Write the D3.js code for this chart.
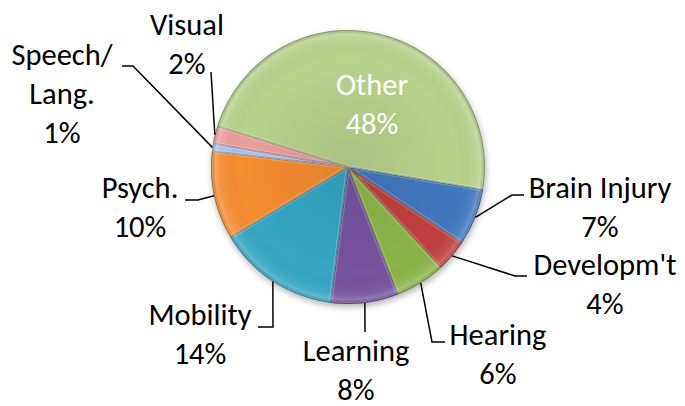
<!DOCTYPE html>
<html>
<head>
<meta charset="utf-8">
<script src="https://cdn.jsdelivr.net/npm/d3@7"></script>
<style>
  body { margin: 0; background: #fff; }
  text { font-family: Carlito, Lato, "Open Sans", sans-serif; }
</style>
</head>
<body>
<script>
const width = 685;
const height = 406;

// data, in clockwise order starting at Brain Injury
const categories = ["Brain Injury", "Developm't", "Hearing", "Learning", "Mobility", "Psych.", "Speech/|Lang.", "Visual", "Other"];
const values = [6.7, 3.8, 5.9, 8.0, 14.4, 10.4, 0.9, 2.1, 47.8];
const colors = ["#3f78c0", "#c0403d", "#8cb548", "#74539e", "#35a6c4", "#f58d30", "#a3c0ea", "#e99d9c", "#b7d28b"];

// label layout (text centre, first baseline) and leader-line bends
const labelX = [600, 605, 498, 356, 200, 140, 62, 187, 372];
const labelY = [198, 275, 345, 361, 325, 198, 65, 35, 95];
const leaders = [
  [[512, 195], [524, 195]],
  [[515, 276], [527, 276]],
  [[432, 342], [445, 342]],
  [[365, 332]],
  [[273, 327], [258, 327]],
  [[198, 200], [185, 200]],
  [[133, 66], [122, 66]],
  [[211, 72]],
  null
];

const cx = 348, cy = 167, radius = 137;
const lineGap = 39;
const fontSize = 30.5;

const data = categories.map((c, i) => ({name: c, value: values[i], color: colors[i], i}));
const total = d3.sum(values);
const fmt = d3.format(".0%");

const pie = d3.pie()
    .sort(null)
    .value(d => d.value)
    .startAngle(99.5 * Math.PI / 180)
    .endAngle(99.5 * Math.PI / 180 + 2 * Math.PI);

const arc = d3.arc().innerRadius(0).outerRadius(radius);
const arcs = pie(data);

const svg = d3.select("body")
    .append("svg")
    .attr("width", width)
    .attr("height", height);

const defs = svg.append("defs");

const shadow = defs.append("filter").attr("id", "shadow")
    .attr("x", "-20%").attr("y", "-20%").attr("width", "140%").attr("height", "140%");
shadow.append("feGaussianBlur").attr("in", "SourceAlpha").attr("stdDeviation", 3);
shadow.append("feOffset").attr("dx", 1).attr("dy", 3).attr("result", "b");
shadow.append("feComponentTransfer").append("feFuncA").attr("type", "linear").attr("slope", 0.3);
const merge = shadow.append("feMerge");
merge.append("feMergeNode");
merge.append("feMergeNode").attr("in", "SourceGraphic");

// rim shading over the whole pie
const rim = defs.append("radialGradient").attr("id", "rim")
    .attr("cx", "50%").attr("cy", "50%").attr("r", "50%");
rim.append("stop").attr("offset", "0%").attr("stop-color", "#000").attr("stop-opacity", 0.08);
rim.append("stop").attr("offset", "80%").attr("stop-color", "#000").attr("stop-opacity", 0);
rim.append("stop").attr("offset", "94%").attr("stop-color", "#fff").attr("stop-opacity", 0.08);
rim.append("stop").attr("offset", "97%").attr("stop-color", "#fff").attr("stop-opacity", 0.22);
rim.append("stop").attr("offset", "100%").attr("stop-color", "#000").attr("stop-opacity", 0.2);

const chart = svg.append("g")
    .attr("transform", `translate(${cx},${cy})`);

const pieGroup = chart.append("g").attr("filter", "url(#shadow)");

arcs.forEach(a => {
  defs.append("clipPath").attr("id", "clip" + a.data.i)
    .append("path").attr("d", arc(a));
});

const slices = pieGroup.selectAll("g.slice")
    .data(arcs)
    .join("g")
    .attr("class", "slice");

slices.append("path")
    .attr("d", arc)
    .attr("fill", d => d.data.color);

// bevel: light inner edge and darker outline
slices.append("path")
    .attr("d", arc)
    .attr("clip-path", d => `url(#clip${d.data.i})`)
    .attr("fill", "none")
    .attr("stroke", "#fff")
    .attr("stroke-opacity", 0.25)
    .attr("stroke-width", 4);

slices.append("path")
    .attr("d", arc)
    .attr("clip-path", d => `url(#clip${d.data.i})`)
    .attr("fill", "none")
    .attr("stroke", d => d3.color(d.data.color).darker(1))
    .attr("stroke-opacity", 0.6)
    .attr("stroke-width", 2);

chart.append("circle")
    .attr("r", radius)
    .attr("fill", "url(#rim)")
    .attr("pointer-events", "none");

// leader lines
const line = d3.line();
arcs.forEach(a => {
  const pts = leaders[a.data.i];
  if (!pts) return;
  const mid = (a.startAngle + a.endAngle) / 2;
  const start = [cx + radius * Math.sin(mid), cy - radius * Math.cos(mid)];
  svg.append("path")
    .attr("d", line([start, ...pts]))
    .attr("fill", "none")
    .attr("stroke", "#000")
    .attr("stroke-width", 1.5);
});

// labels
arcs.forEach(a => {
  const d = a.data;
  const lines = d.name.split("|").concat([fmt(d.value / total)]);
  const t = svg.append("text")
      .attr("x", labelX[d.i])
      .attr("y", labelY[d.i])
      .attr("text-anchor", "middle")
      .attr("font-size", fontSize)
      .attr("fill", d.name === "Other" ? "#fff" : "#000");
  lines.forEach((s, k) => {
    t.append("tspan")
      .attr("x", labelX[d.i])
      .attr("dy", k === 0 ? 0 : lineGap)
      .text(s);
  });
});
</script>
</body>
</html>
